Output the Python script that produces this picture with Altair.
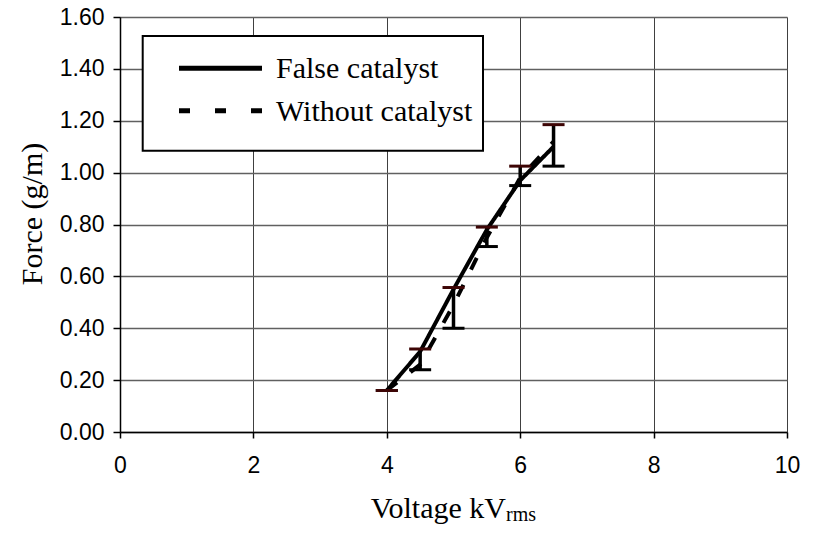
import altair as alt
import pandas as pd

# ---- data ----
voltage = [4.0, 4.5, 5.0, 5.5, 6.0, 6.5]
false_catalyst = [0.16, 0.31, 0.55, 0.78, 0.97, 1.10]
without_catalyst = [0.16, 0.26, 0.49, 0.75, 0.98, 1.12]
err_low = [0.16, 0.24, 0.40, 0.715, 0.95, 1.025]
err_high = [0.16, 0.32, 0.557, 0.79, 1.025, 1.185]
series_names = ["False catalyst", "Without catalyst"]
x_ticks = [0, 2, 4, 6, 8, 10]
y_ticks = [0.0, 0.2, 0.4, 0.6, 0.8, 1.0, 1.2, 1.4, 1.6]

lines_df = pd.concat([
    pd.DataFrame({"v": voltage, "f": false_catalyst, "series": series_names[0]}),
    pd.DataFrame({"v": voltage, "f": without_catalyst, "series": series_names[1]}),
])
err_df = pd.DataFrame({"v": voltage, "lo": err_low, "hi": err_high})

SERIF = "Liberation Serif"
SANS = "Liberation Sans"

xs = alt.Scale(domain=[0, 10], nice=False, zero=False)
ys = alt.Scale(domain=[0, 1.6], nice=False, zero=False)

x_axis = alt.Axis(values=x_ticks, format="d", title=None, grid=True, gridColor="#404040", gridWidth=1,
                  tickSize=6, tickColor="black", tickWidth=1.5, labelPadding=16,
                  domainColor="black", domainWidth=1.5, labelFont=SANS, labelFontSize=23,
                  labelColor="black", labelFlush=False)
y_axis = alt.Axis(values=y_ticks, format=".2f", title=None, grid=True, gridColor="#606060",
                  gridWidth=1.5, tickSize=7, tickColor="black", tickWidth=1.5, labelPadding=9,
                  domainColor="black", domainWidth=1.5, labelFont=SANS, labelFontSize=23,
                  labelColor="black", labelFlush=False)

lines = alt.Chart(lines_df).mark_line(strokeWidth=4, color="black", strokeJoin="round").encode(
    x=alt.X("v:Q", scale=xs, axis=x_axis),
    y=alt.Y("f:Q", scale=ys, axis=y_axis),
    strokeDash=alt.StrokeDash("series:N", scale=alt.Scale(domain=series_names,
                                                          range=[[1, 0], [13, 17]]), legend=None),
    detail="series:N",
)

err_rule = alt.Chart(err_df).mark_rule(strokeWidth=3.5, color="black").encode(
    x=alt.X("v:Q", scale=xs), y=alt.Y("lo:Q", scale=ys), y2="hi:Q")
cap_low = alt.Chart(err_df).mark_tick(orient="horizontal", thickness=3, size=22, color="black",
                                      opacity=1).encode(
    x=alt.X("v:Q", scale=xs), y=alt.Y("lo:Q", scale=ys))
cap_high = alt.Chart(err_df).mark_tick(orient="horizontal", thickness=3, size=22, color="#3d0505",
                                       opacity=1).encode(
    x=alt.X("v:Q", scale=xs), y=alt.Y("hi:Q", scale=ys))

one = pd.DataFrame({"a": [0]})

legend_box = alt.Chart(one).mark_rect(fill="white", stroke="black", strokeWidth=2).encode(
    x=alt.value(22.7), x2=alt.value(363), y=alt.value(19), y2=alt.value(133.7))
leg_solid = alt.Chart(one).mark_rule(strokeWidth=5, color="black").encode(
    x=alt.value(59), x2=alt.value(142), y=alt.value(51.3))
leg_dash = alt.Chart(one).mark_rule(strokeWidth=5, color="black", strokeDash=[11, 25]).encode(
    x=alt.value(59), x2=alt.value(142), y=alt.value(93.8))
leg_t1 = alt.Chart(pd.DataFrame({"t": [series_names[0]]})).mark_text(
    font=SERIF, fontSize=30, align="left", baseline="alphabetic", color="black").encode(
    text="t:N", x=alt.value(156), y=alt.value(60.7))
leg_t2 = alt.Chart(pd.DataFrame({"t": [series_names[1]]})).mark_text(
    font=SERIF, fontSize=30, align="left", baseline="alphabetic", color="black").encode(
    text="t:N", x=alt.value(156), y=alt.value(103.7))

ytitle = alt.Chart(pd.DataFrame({"t": ["Force (g/m)"]})).mark_text(
    font=SERIF, fontSize=30, angle=270, align="center", baseline="alphabetic", color="black").encode(
    text="t:N", x=alt.value(-78), y=alt.value(197))
xtitle_main = alt.Chart(pd.DataFrame({"t": ["Voltage kV"]})).mark_text(
    font=SERIF, fontSize=30, align="right", baseline="alphabetic", color="black").encode(
    text="t:N", x=alt.value(386), y=alt.value(500.5))
xtitle_sub = alt.Chart(pd.DataFrame({"t": ["rms"]})).mark_text(
    font=SERIF, fontSize=20, align="left", baseline="alphabetic", color="black").encode(
    text="t:N", x=alt.value(386), y=alt.value(503.5))

chart = alt.layer(
    lines, err_rule, cap_low, cap_high, legend_box, leg_solid, leg_dash, leg_t1, leg_t2,
    ytitle, xtitle_main, xtitle_sub,
).properties(
    width=667, height=415,
    autosize=alt.AutoSizeParams(type="none"),
    padding={"left": 112, "top": 9, "right": 20, "bottom": 93},
).configure_view(stroke=None).configure(background="white")

chart.save("out.html", embed_options={"renderer": "svg", "actions": False})
